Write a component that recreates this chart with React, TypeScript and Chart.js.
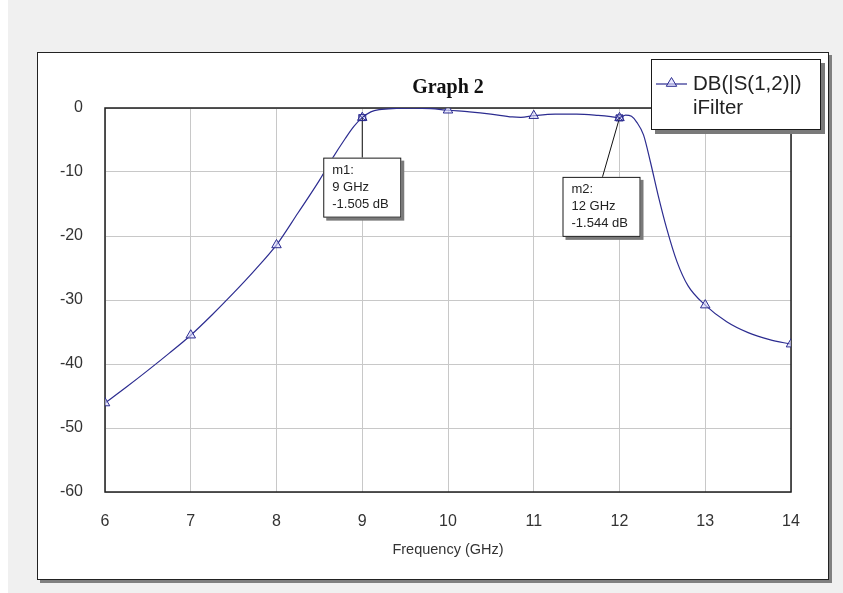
import React, { useEffect, useRef } from "react";
import { Chart, registerables } from "chart.js";

Chart.register(...registerables);

// Frequency sweep (GHz) and transmission |S12| in dB
const freqGHz = [
  6.0, 6.25, 6.5, 6.75, 7.0, 7.25, 7.5, 7.75, 8.0, 8.25, 8.5, 8.65, 8.8, 8.9,
  9.0, 9.1, 9.2, 9.4, 9.6, 9.8, 10.0, 10.25, 10.5, 10.75, 10.85, 11.0, 11.25,
  11.5, 11.75, 11.9, 12.0, 12.07, 12.14, 12.2, 12.28, 12.36, 12.45, 12.55,
  12.67, 12.8, 13.0, 13.25, 13.5, 13.75, 14.0,
];
const s12dB = [
  -46.1, -43.6, -41.0, -38.3, -35.5, -32.3, -28.9, -25.3, -21.4, -16.4, -11.3,
  -7.9, -4.8, -2.9, -1.505, -0.6, -0.25, -0.08, -0.03, -0.1, -0.35, -0.6,
  -0.95, -1.4, -1.45, -1.2, -0.95, -0.95, -1.15, -1.35, -1.544, -1.1, -1.3,
  -2.2, -4.2, -8.4, -13.6, -18.8, -24.0, -27.8, -30.8, -33.4, -35.1, -36.2,
  -36.9,
];

const xTicks = [6, 7, 8, 9, 10, 11, 12, 13, 14];
const yTicks = [0, -10, -20, -30, -40, -50, -60];

const markerNames = ["m1", "m2"];
const markerFreqs = [9, 12];

const graphTitle = "Graph 2";
const xTitle = "Frequency (GHz)";
const legendLines = ["DB(|S(1,2)|)", "iFilter"];

const TRACE = "#2c2c90";
const SANS = "'Liberation Sans', Arial, sans-serif";

function drawTriangle(ctx: CanvasRenderingContext2D, cx: number, cy: number, r: number) {
  ctx.beginPath();
  ctx.moveTo(cx, cy - r);
  ctx.lineTo(cx + r * 0.95, cy + r * 0.6);
  ctx.lineTo(cx - r * 0.95, cy + r * 0.6);
  ctx.closePath();
  ctx.fillStyle = "rgba(220,220,255,0.6)";
  ctx.fill();
  ctx.strokeStyle = TRACE;
  ctx.lineWidth = 1;
  ctx.stroke();
}

function shadowBox(ctx: CanvasRenderingContext2D, x: number, y: number, w: number, h: number, s: number) {
  ctx.fillStyle = "#7a7a7a";
  ctx.fillRect(x + s, y + s, w, h);
  ctx.fillStyle = "#ffffff";
  ctx.fillRect(x, y, w, h);
  ctx.strokeStyle = "#1a1a1a";
  ctx.lineWidth = 1;
  ctx.strokeRect(x + 0.5, y + 0.5, w - 1, h - 1);
}

const framePlugin = {
  id: "frame",
  beforeDatasetsDraw(chart: any) {
    const { ctx, chartArea: a } = chart;
    ctx.save();
    ctx.strokeStyle = "#1e1e1e";
    ctx.lineWidth = 1.5;
    ctx.strokeRect(a.left, a.top, a.right - a.left, a.bottom - a.top);
    ctx.restore();
  },
  afterDraw(chart: any) {
    const { ctx, chartArea: a } = chart;
    const xs = chart.scales.x;
    const ys = chart.scales.y;
    ctx.save();

    // title
    ctx.fillStyle = "#111";
    ctx.font = "bold 20px 'Liberation Serif', 'Times New Roman', serif";
    ctx.textAlign = "center";
    ctx.textBaseline = "middle";
    ctx.fillText(graphTitle, (a.left + a.right) / 2, a.top - 20);

    // x-axis title
    ctx.fillStyle = "#333";
    ctx.font = `14.5px ${SANS}`;
    ctx.fillText(xTitle, (a.left + a.right) / 2, a.bottom + 58);

    // markers m1 / m2
    const boxOffsets = [
      { dx: -39, dy: 40, lx: 0 },
      { dx: -57, dy: 59, lx: -17 },
    ];
    markerFreqs.forEach((f, i) => {
      const idx = freqGHz.indexOf(f);
      const v = s12dB[idx];
      const px = xs.getPixelForValue(f);
      const py = ys.getPixelForValue(v);
      const off = boxOffsets[i];
      const bx = px + off.dx;
      const by = py + off.dy;
      const bw = 78;
      const bh = 60;
      // leader
      ctx.strokeStyle = "#111";
      ctx.lineWidth = 1;
      ctx.beginPath();
      ctx.moveTo(px, py);
      ctx.lineTo(px + off.lx, by);
      ctx.stroke();
      // marker symbol
      ctx.strokeStyle = TRACE;
      ctx.beginPath();
      ctx.rect(px - 3.5, py - 3, 7, 6);
      ctx.moveTo(px - 3.5, py - 3);
      ctx.lineTo(px + 3.5, py + 3);
      ctx.moveTo(px + 3.5, py - 3);
      ctx.lineTo(px - 3.5, py + 3);
      ctx.stroke();
      // label box
      shadowBox(ctx, bx, by, bw, bh, 3);
      ctx.fillStyle = "#222";
      ctx.font = `13px ${SANS}`;
      ctx.textAlign = "left";
      ctx.textBaseline = "middle";
      const lines = [`${markerNames[i]}:`, `${f} GHz`, `${v.toFixed(3)} dB`];
      lines.forEach((t, k) => ctx.fillText(t, bx + 9, by + 13 + k * 17));
    });

    // legend
    const lx = 613;
    const ly = 6;
    shadowBox(ctx, lx, ly, 170, 71, 4);
    ctx.strokeStyle = TRACE;
    ctx.lineWidth = 1.2;
    ctx.beginPath();
    ctx.moveTo(lx + 5, ly + 25);
    ctx.lineTo(lx + 36, ly + 25);
    ctx.stroke();
    drawTriangle(ctx, lx + 20.5, ly + 24, 5.5);
    ctx.fillStyle = "#222";
    ctx.font = `20.5px ${SANS}`;
    ctx.textAlign = "left";
    ctx.textBaseline = "middle";
    ctx.fillText(legendLines[0], lx + 42, ly + 25);
    ctx.fillText(legendLines[1], lx + 42, ly + 49);

    ctx.restore();
  },
};

export default function App() {
  const canvasRef = useRef<HTMLCanvasElement | null>(null);

  useEffect(() => {
    const canvas = canvasRef.current;
    if (!canvas) return;
    const points = freqGHz.map((f, i) => ({ x: f, y: s12dB[i] }));
    const chart = new Chart(canvas, {
      type: "line",
      data: {
        datasets: [
          {
            label: legendLines[0],
            data: points,
            borderColor: TRACE,
            borderWidth: 1.2,
            cubicInterpolationMode: "monotone",
            pointStyle: "triangle",
            pointRadius: (c: any) =>
              Number.isInteger(freqGHz[c.dataIndex]) ? 5.5 : 0,
            pointBorderColor: TRACE,
            pointBackgroundColor: "rgba(220,220,255,0.6)",
            pointBorderWidth: 1,
          },
        ],
      },
      options: {
        animation: false,
        responsive: false,
        devicePixelRatio: 1,
        layout: { padding: { top: 55, right: 37, left: 0, bottom: 0 } },
        plugins: {
          legend: { display: false },
          title: { display: false },
          tooltip: { enabled: false },
        },
        scales: {
          x: {
            type: "linear",
            min: xTicks[0],
            max: xTicks[xTicks.length - 1],
            afterFit: (s: any) => {
              s.height = 87;
            },
            afterBuildTicks: (s: any) => {
              s.ticks = xTicks.map((v) => ({ value: v }));
            },
            grid: { color: "#c8c8c8", lineWidth: 1, drawTicks: false },
            border: { display: false },
            ticks: {
              padding: 20,
              color: "#333",
              font: { family: SANS, size: 16 },
            },
          },
          y: {
            type: "linear",
            min: yTicks[yTicks.length - 1],
            max: yTicks[0],
            afterFit: (s: any) => {
              s.width = 67;
            },
            afterBuildTicks: (s: any) => {
              s.ticks = yTicks.map((v) => ({ value: v }));
            },
            grid: { color: "#c8c8c8", lineWidth: 1, drawTicks: false },
            border: { display: false },
            ticks: {
              padding: 22,
              color: "#333",
              font: { family: SANS, size: 16 },
            },
          },
        },
      },
      plugins: [framePlugin],
    } as any);
    return () => chart.destroy();
  }, []);

  return (
    <div
      style={{
        position: "fixed",
        left: 8,
        top: 0,
        right: 0,
        bottom: 0,
        background: "#f0f0f0",
      }}
    >
      <div
        style={{
          position: "absolute",
          left: 29,
          top: 52,
          width: 790,
          height: 526,
          background: "#fff",
          border: "1px solid #222",
          boxShadow: "3px 3px 0 #808080",
        }}
      >
        <canvas
          ref={canvasRef}
          width={790}
          height={526}
          style={{ display: "block", width: 790, height: 526 }}
        />
      </div>
    </div>
  );
}
